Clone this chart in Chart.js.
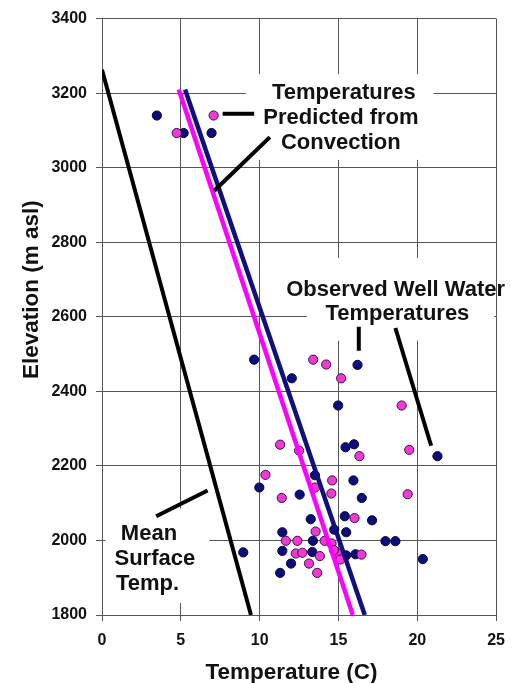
<!DOCTYPE html>
<html>
<head>
<meta charset="utf-8">
<title>Well water temperature vs elevation</title>
<script src="https://cdn.jsdelivr.net/npm/chart.js@4/dist/chart.umd.min.js"></script>
<style>
  html, body { margin: 0; padding: 0; background: #ffffff; }
  #wrap { width: 515px; height: 683px; }
  canvas { display: block; }
</style>
</head>
<body>
<div id="wrap"><canvas id="chart" width="515" height="683"></canvas></div>
<script>
// Axis ranges and tick spacing
const tempRange = [0, 25];
const tempStep = 5;
const elevRange = [1800, 3400];
const elevStep = 200;

// Observed well water temperatures, group 1 (navy markers)
const navyTemp = [3.48, 5.18, 6.95, 9.65, 12.04, 16.21, 14.98, 15.45, 15.99, 21.28,
                  13.51, 15.95, 9.98, 12.54, 16.48, 17.13, 13.24, 15.40, 11.44, 15.49,
                  13.38, 17.98, 18.61, 8.96, 11.44, 13.34, 11.99, 11.30, 15.49, 16.08,
                  20.35, 14.73];
const navyElev = [3140, 3093, 3093, 2485, 2435, 2471, 2362, 2250, 2258, 2226,
                  2175, 2161, 2142, 2123, 2114, 2054, 2057, 2065, 2022, 2022,
                  1999, 1998, 1998, 1968, 1972, 1969, 1938, 1913, 1960, 1963,
                  1950, 2029];

// Observed well water temperatures, group 2 (magenta markers)
const pinkTemp = [7.08, 4.74, 13.40, 14.22, 15.17, 19.01, 19.49, 19.39, 11.30, 12.50,
                  16.33, 10.37, 13.51, 14.60, 11.40, 14.55, 16.02, 13.55, 11.66, 12.39,
                  14.12, 14.56, 12.29, 12.71, 13.82, 13.13, 13.65, 15.03, 15.13, 16.46,
                  14.71];
const pinkElev = [3140, 3093, 2485, 2472, 2435, 2362, 2243, 2124, 2257, 2241,
                  2226, 2176, 2142, 2161, 2114, 2126, 2060, 2024, 1999, 1999,
                  1999, 1992, 1965, 1967, 1958, 1938, 1913, 1965, 1949, 1962,
                  1974];

// Mean surface temperature profile (end points)
const surfaceTemp = [0, 9.45];
const surfaceElev = [3263, 1800];

// Temperatures predicted from convection (end points)
const convPinkTemp = [4.87, 15.91];
const convPinkElev = [3210, 1800];
const convNavyTemp = [5.27, 16.67];
const convNavyElev = [3210, 1800];

// Leader lines from the labels to the curves / points
const leaderPredictedTemp = [7.65, 9.65];
const leaderPredictedElev = [3145, 3145];
const leaderConvectionTemp = [10.65, 7.12];
const leaderConvectionElev = [3082, 2938];
const leaderObservedATemp = [16.29, 16.29];
const leaderObservedAElev = [2573, 2509];
const leaderObservedBTemp = [18.61, 20.88];
const leaderObservedBElev = [2570, 2254];
const leaderSurfaceTemp = [3.44, 6.70];
const leaderSurfaceElev = [2065, 2134];

const toPoints = (xs, ys) => xs.map((x, i) => ({ x: x, y: ys[i] }));

const FONT = '"Liberation Sans", Arial, Helvetica, sans-serif';

// White panels behind the label text, in axis units
const labelBoxes = [
  { x0: 9.13, x1: 21.03, y0: 3251, y1: 3021 },
  { x0: 13.0, x1: 24.88, y0: 2758, y1: 2536 },
  { x0: 0.23, x1: 6.81, y0: 2086, y1: 1832 }
];
// Label lines, anchored in axis units (centre x, baseline y)
const labelLines = [
  { text: 'Temperatures', x: 15.34, y: 3183 },
  { text: 'Predicted from', x: 15.16, y: 3116 },
  { text: 'Convection', x: 15.15, y: 3049 },
  { text: 'Observed Well Water', x: 18.63, y: 2656 },
  { text: 'Temperatures', x: 18.74, y: 2591 },
  { text: 'Mean', x: 2.98, y: 2001 },
  { text: 'Surface', x: 3.35, y: 1935 },
  { text: 'Temp.', x: 2.89, y: 1866 }
];

const labelPlugin = {
  id: 'labelPlugin',
  beforeDatasetsDraw(chart) {
    const { ctx, scales: { x, y } } = chart;
    ctx.save();
    ctx.fillStyle = '#ffffff';
    labelBoxes.forEach(b => {
      const l = x.getPixelForValue(b.x0), r = x.getPixelForValue(b.x1);
      const t = y.getPixelForValue(b.y0), btm = y.getPixelForValue(b.y1);
      ctx.fillRect(l, t, r - l, btm - t);
    });
    ctx.restore();
  },
  afterDatasetsDraw(chart) {
    const { ctx, scales: { x, y } } = chart;
    ctx.save();
    ctx.fillStyle = '#111111';
    ctx.font = 'bold 22px ' + FONT;
    ctx.textAlign = 'center';
    ctx.textBaseline = 'alphabetic';
    labelLines.forEach(l => {
      ctx.fillText(l.text, x.getPixelForValue(l.x), y.getPixelForValue(l.y));
    });
    ctx.restore();
  },
  afterDraw(chart) {
    const { ctx, chartArea } = chart;
    ctx.save();
    ctx.fillStyle = '#111111';
    ctx.font = 'bold 22.5px ' + FONT;
    ctx.textAlign = 'center';
    ctx.textBaseline = 'alphabetic';
    // x axis title
    ctx.fillText('Temperature (C)', chartArea.left + 189.5, chartArea.bottom + 64);
    // y axis title
    ctx.translate(37.5, chartArea.top + 271);
    ctx.rotate(-Math.PI / 2);
    ctx.fillText('Elevation (m asl)', 0, 0);
    ctx.restore();
  }
};

const lineDs = (label, xs, ys, color, width) => ({
  label: label,
  data: toPoints(xs, ys),
  showLine: true,
  borderColor: color,
  backgroundColor: color,
  borderWidth: width,
  pointRadius: 0,
  pointHoverRadius: 0,
  borderCapStyle: 'butt',
  fill: false
});

const gridColor = '#555555';
const plainNumber = v => String(v);

new Chart(document.getElementById('chart'), {
  type: 'scatter',
  data: {
    datasets: [
      lineDs('Leader predicted', leaderPredictedTemp, leaderPredictedElev, '#000000', 4),
      lineDs('Leader convection', leaderConvectionTemp, leaderConvectionElev, '#000000', 4),
      lineDs('Leader observed A', leaderObservedATemp, leaderObservedAElev, '#000000', 4),
      lineDs('Leader observed B', leaderObservedBTemp, leaderObservedBElev, '#000000', 4),
      lineDs('Leader surface', leaderSurfaceTemp, leaderSurfaceElev, '#000000', 4),
      lineDs('Mean surface temperature', surfaceTemp, surfaceElev, '#000000', 4),
      lineDs('Predicted (navy)', convNavyTemp, convNavyElev, '#10107a', 4.5),
      lineDs('Predicted (magenta)', convPinkTemp, convPinkElev, '#ff00ff', 4.5),
      {
        label: 'Observed (magenta)',
        data: toPoints(pinkTemp, pinkElev),
        backgroundColor: '#f23ad0',
        borderColor: '#3a0a55',
        borderWidth: 1,
        pointRadius: 4.6,
        pointStyle: 'circle'
      },
      {
        label: 'Observed (navy)',
        data: toPoints(navyTemp, navyElev),
        backgroundColor: '#0c0c7c',
        borderColor: '#05053a',
        borderWidth: 1,
        pointRadius: 4.6,
        pointStyle: 'circle'
      }
    ]
  },
  options: {
    responsive: false,
    devicePixelRatio: 1,
    animation: false,
    layout: { padding: { top: 17, right: 17, left: 0, bottom: 0 } },
    plugins: {
      legend: { display: false },
      tooltip: { enabled: false },
      title: { display: false }
    },
    scales: {
      x: {
        type: 'linear',
        min: tempRange[0],
        max: tempRange[1],
        ticks: {
          stepSize: tempStep,
          color: '#111111',
          font: { family: FONT, size: 16, weight: 'bold' },
          padding: 10,
          maxRotation: 0,
          callback: plainNumber
        },
        grid: { color: gridColor, lineWidth: 1, tickLength: 6, tickColor: gridColor },
        border: { color: gridColor, width: 1 },
        afterFit(scale) { scale.height = 68; }
      },
      y: {
        type: 'linear',
        min: elevRange[0],
        max: elevRange[1],
        ticks: {
          stepSize: elevStep,
          color: '#111111',
          font: { family: FONT, size: 16, weight: 'bold' },
          padding: 9,
          callback: plainNumber
        },
        grid: { color: gridColor, lineWidth: 1, tickLength: 6, tickColor: gridColor },
        border: { color: gridColor, width: 1 },
        afterFit(scale) { scale.width = 102; }
      }
    }
  },
  plugins: [labelPlugin]
});
</script>
</body>
</html>
